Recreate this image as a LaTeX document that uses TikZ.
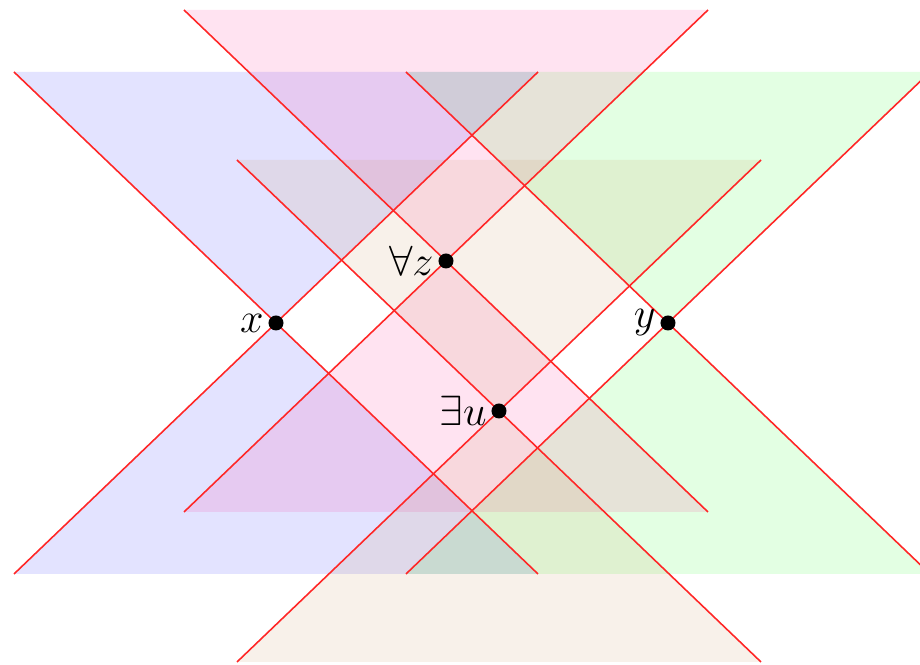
\documentclass[tikz,border=0pt]{standalone}
\usepackage{amsmath,amssymb}
\usepackage{tikz}
\usetikzlibrary{calc}

\definecolor{zpink}{RGB}{255,0,128}
\definecolor{ubrown}{RGB}{190,125,60}

\begin{document}
\begin{tikzpicture}[x=0.01cm, y=-0.01cm,
		cone/.style={fill opacity=0.11},
		edge/.style={red!85, line width=0.45pt},
		dot/.style={circle, fill=black, inner sep=0pt, minimum size=0.15cm},
		lab/.style={inner sep=1pt, font=\fontsize{13}{15}\selectfont}]
		\clip (0,0) rectangle (920,665);
		
		% the four events
		\coordinate (x) at (276,323);
		\coordinate (y) at (668,323);
		\coordinate (z) at (446,261);
		\coordinate (u) at (499,411);
		
		% cone of x (blue)
		\fill[blue, cone] ($(x)+(-262,-251)$) -- ($(x)+(262,-251)$) -- (x) -- cycle;
		\fill[blue, cone] ($(x)+(-262,251)$) -- ($(x)+(262,251)$) -- (x) -- cycle;
		
		% cone of y (green)
		\fill[green, cone] ($(y)+(-262,-251)$) -- ($(y)+(262,-251)$) -- (y) -- cycle;
		\fill[green, cone] ($(y)+(-262,251)$) -- ($(y)+(262,251)$) -- (y) -- cycle;
		
		% cone of z (pink)
		\fill[zpink, cone] ($(z)+(-262,-251)$) -- ($(z)+(262,-251)$) -- (z) -- cycle;
		\fill[zpink, cone] ($(z)+(-262,251)$) -- ($(z)+(262,251)$) -- (z) -- cycle;
		
		% cone of u (brown)
		\fill[ubrown, cone] ($(u)+(-262,-251)$) -- ($(u)+(262,-251)$) -- (u) -- cycle;
		\fill[ubrown, cone] ($(u)+(-262,251)$) -- ($(u)+(262,251)$) -- (u) -- cycle;
		
		% light rays
		\draw[edge] ($(x)+(-262,-251)$) -- ($(x)+(262,251)$);
		\draw[edge] ($(x)+(262,-251)$) -- ($(x)+(-262,251)$);
		\draw[edge] ($(y)+(-262,-251)$) -- ($(y)+(262,251)$);
		\draw[edge] ($(y)+(262,-251)$) -- ($(y)+(-262,251)$);
		\draw[edge] ($(z)+(-262,-251)$) -- ($(z)+(262,251)$);
		\draw[edge] ($(z)+(262,-251)$) -- ($(z)+(-262,251)$);
		\draw[edge] ($(u)+(-262,-251)$) -- ($(u)+(262,251)$);
		\draw[edge] ($(u)+(262,-251)$) -- ($(u)+(-262,251)$);
		
		% points and labels
		\node[dot] (px) at (x) {};
		\node[dot] (py) at (y) {};
		\node[dot] (pz) at (z) {};
		\node[dot] (pu) at (u) {};
		\node[lab, left] (lx) at (px.west) {$x$};
		\node[lab, left] (ly) at (py.west) {$y$};
		\node[lab, left] (lz) at (pz.west) {$\forall z$};
		\node[lab, left] (lu) at (pu.west) {$\exists u$};
	\end{tikzpicture}
\end{document}
